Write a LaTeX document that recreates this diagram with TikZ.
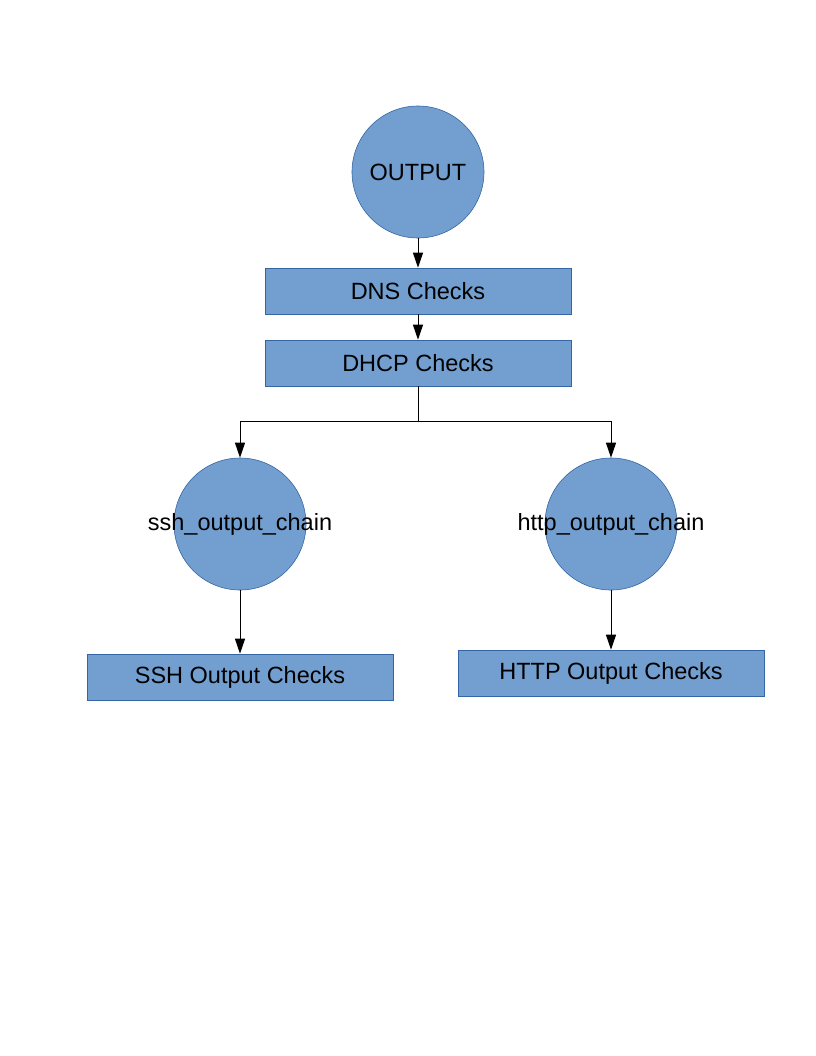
\documentclass[tikz,border=0pt]{standalone}
\usepackage{fontspec}
\setmainfont{Liberation Sans}
\usetikzlibrary{arrows.meta}
\definecolor{boxfill}{HTML}{729FCF}
\definecolor{boxline}{HTML}{3465A4}
\newcommand{\ctext}[1]{\makebox[0pt][c]{#1}}
\tikzset{
  every node/.style={font=\fontsize{23.5bp}{28bp}\selectfont, text=black},
  circ/.style={circle, fill=boxfill, draw=boxline, line width=0.6bp, minimum size=132bp, inner sep=0pt},
  rbox/.style={rectangle, fill=boxfill, draw=boxline, line width=0.6bp, minimum width=306bp, minimum height=46bp, inner sep=0pt},
  conn/.style={draw=black, line width=1bp, -{Triangle[width=10bp,length=15bp]}},
  plain/.style={draw=black, line width=1bp}
}
\begin{document}
\begin{tikzpicture}[x=1bp,y=-1bp]
\useasboundingbox (0,0) rectangle (816,1056);
\node[circ] (out) at (418,172) {\ctext{OUTPUT}};
\node[rbox] (dns) at (418,291) {DNS Checks};
\node[rbox] (dhcp) at (418,363) {DHCP Checks};
\node[circ] (ssh) at (240,524) {\ctext{ssh\_output\_chain}};
\node[circ] (http) at (611,524) {\ctext{http\_output\_chain}};
\node[rbox] (sshc) at (240,677) {SSH Output Checks};
\node[rbox] (httpc) at (611,673) {HTTP Output Checks};
\coordinate (split) at (418,421);
\draw[conn] (out.south) -- (dns.north);
\draw[conn] (dns.south) -- (dhcp.north);
\draw[plain] (dhcp.south) -- (split);
\draw[conn] (split) -| (ssh.north);
\draw[conn] (split) -| (http.north);
\draw[conn] (ssh.south) -- (sshc.north);
\draw[conn] (http.south) -- (httpc.north);
\end{tikzpicture}
\end{document}
